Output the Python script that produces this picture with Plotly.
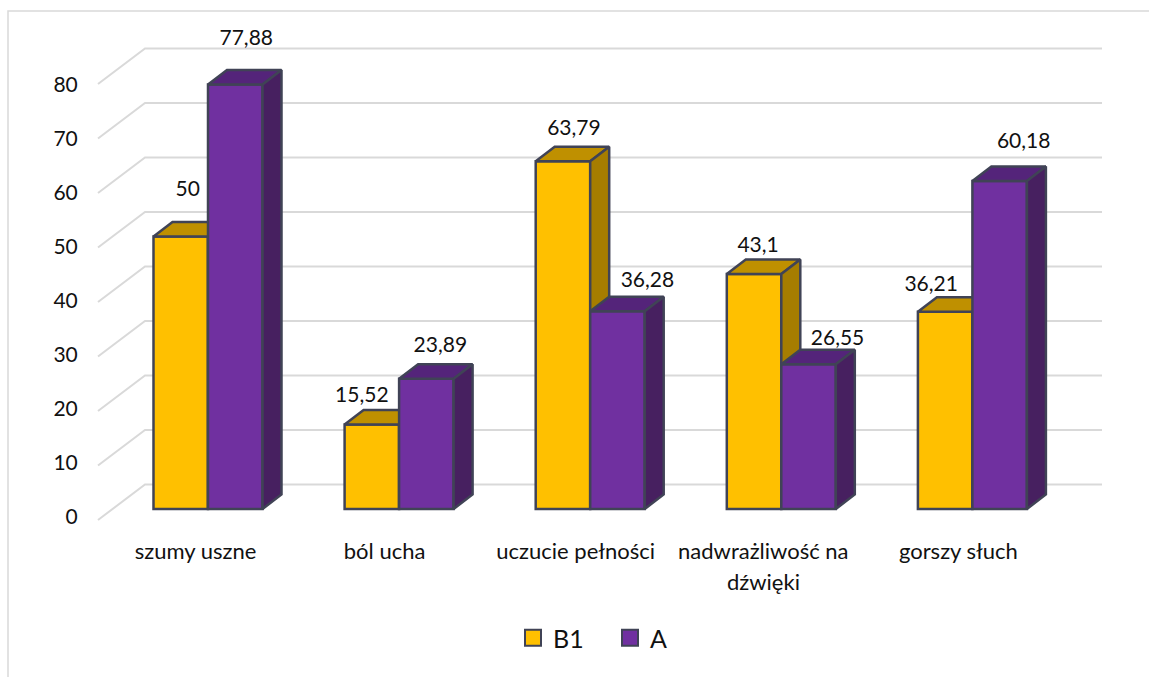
import plotly.graph_objects as go

# Survey results per symptom, in percent
categories = ["szumy uszne", "ból ucha", "uczucie pełności", "nadwrażliwość na", "gorszy słuch"]
category_second_line = {3: "dźwięki"}
series_b1 = [50, 15.52, 63.79, 43.1, 36.21]
series_a = [77.88, 23.89, 36.28, 26.55, 60.18]
y_ticks = [0, 10, 20, 30, 40, 50, 60, 70, 80]

# Pixel offsets of the hand-placed value labels, relative to the bar's top centre
label_shift_b1 = [(7, -46), (-10, -28), (11, -32), (4, -27), (-14, -26)]
label_shift_a = [(11, -45), (14, -32), (30, -30), (29, -25), (24, -38.5)]
# Pixel offsets of the category labels from their group centres
category_shift = [-12.5, -14.5, -14.5, -18, -14]

FIG_W, FIG_H = 1149, 677
PLOT_L, PLOT_R, PLOT_T, PLOT_B = 90, 1110, 20, 530

# Scales: one category step and one percentage point in pixels
PX_PER_CAT = 191.1
PX_PER_VAL = 5.45
ORIGIN_X, ORIGIN_Y = 208.0, 509.0

BAR_W = 54.5 / PX_PER_CAT
DEPTH_X = 19 / PX_PER_CAT
DEPTH_Y = 14.5 / PX_PER_VAL

x_range = [(PLOT_L - ORIGIN_X) / PX_PER_CAT, (PLOT_R - ORIGIN_X) / PX_PER_CAT]
y_range = [(ORIGIN_Y - PLOT_B) / PX_PER_VAL, (ORIGIN_Y - PLOT_T) / PX_PER_VAL]

# The tick-label axis sits a little lower and tighter than the bars' own scale
tick_px = 5.4
tick_zero = 517.0
tick_range = [(tick_zero - PLOT_B) / tick_px, (tick_zero - PLOT_T) / tick_px]

# Back wall and floor of the 3D box
WALL_FRONT_X = (98 - ORIGIN_X) / PX_PER_CAT
WALL_BACK_X = (145 - ORIGIN_X) / PX_PER_CAT
WALL_RIGHT_X = (1102 - ORIGIN_X) / PX_PER_CAT
WALL_FRONT_Y = (ORIGIN_Y - 520) / PX_PER_VAL
WALL_BACK_Y = (ORIGIN_Y - 484.5) / PX_PER_VAL

TEXT = "#111111"
FONT = "Lato"
GRID = "#d9d9d9"
EDGE = "#404356"
EDGE_W = 2.5
B1_FRONT, B1_TOP, B1_SIDE = "#FFC000", "#BF9000", "#A67D00"
A_FRONT, A_TOP, A_SIDE = "#7030A0", "#54247A", "#472060"

fig = go.Figure()

# Wall lines: short diagonal from the front, then along the back wall
for v in y_ticks:
    fig.add_trace(go.Scatter(
        x=[WALL_FRONT_X, WALL_BACK_X, WALL_RIGHT_X],
        y=[WALL_FRONT_Y + v, WALL_BACK_Y + v, WALL_BACK_Y + v],
        mode="lines", line=dict(color=GRID, width=2),
        showlegend=False, hoverinfo="skip", yaxis="y",
    ))


def add_boxes(values, left_offset, front, top, side, axis):
    """One overlay layer: front faces as bars, top and side faces as polygons."""
    centres = [i + left_offset + BAR_W / 2 for i in range(len(values))]
    fig.add_trace(go.Bar(
        x=centres, y=values, width=BAR_W, yaxis=axis,
        marker=dict(color=front, line=dict(color=EDGE, width=EDGE_W)),
        showlegend=False, hoverinfo="skip",
    ))
    for c, v in zip(centres, values):
        l, r = c - BAR_W / 2, c + BAR_W / 2
        fig.add_trace(go.Scatter(
            x=[l, l + DEPTH_X, r + DEPTH_X, r, l],
            y=[v, v + DEPTH_Y, v + DEPTH_Y, v, v],
            mode="lines", fill="toself", fillcolor=top,
            line=dict(color=EDGE, width=EDGE_W), yaxis=axis,
            showlegend=False, hoverinfo="skip",
        ))
        fig.add_trace(go.Scatter(
            x=[r, r + DEPTH_X, r + DEPTH_X, r, r],
            y=[v, v + DEPTH_Y, DEPTH_Y, 0, v],
            mode="lines", fill="toself", fillcolor=side,
            line=dict(color=EDGE, width=EDGE_W), yaxis=axis,
            showlegend=False, hoverinfo="skip",
        ))
    return centres


centres_b1 = add_boxes(series_b1, -BAR_W, B1_FRONT, B1_TOP, B1_SIDE, "y2")
centres_a = add_boxes(series_a, 0, A_FRONT, A_TOP, A_SIDE, "y3")


def fmt(v):
    return f"{v:g}".replace(".", ",")


# Value labels above each bar
for centres, values, shifts in ((centres_b1, series_b1, label_shift_b1),
                                (centres_a, series_a, label_shift_a)):
    fig.add_trace(go.Scatter(
        x=[c + s[0] / PX_PER_CAT for c, s in zip(centres, shifts)],
        y=[v - s[1] / PX_PER_VAL for v, s in zip(values, shifts)],
        text=[fmt(v) for v in values],
        mode="text", textposition="middle center",
        textfont=dict(family=FONT, size=21, color=TEXT),
        yaxis="y3", showlegend=False, hoverinfo="skip",
    ))

# Legend entries
for name, front in (("B1", B1_FRONT), ("A", A_FRONT)):
    fig.add_trace(go.Scatter(
        x=[None], y=[None], name=name, mode="markers", yaxis="y3",
        marker=dict(symbol="square", size=16, color=front,
                    line=dict(color=EDGE, width=2)),
    ))

# Empty trace that brings the tick-label axis into the subplot
fig.add_trace(go.Scatter(x=[None], y=[None], yaxis="y4", showlegend=False, hoverinfo="skip"))

plot_w = PLOT_R - PLOT_L
plot_h = PLOT_B - PLOT_T


def px_x(p):
    return (p - PLOT_L) / plot_w


def px_y(p):
    return (PLOT_B - p) / plot_h


hidden = dict(range=y_range, visible=False, fixedrange=True)
cat_labels_at = [i + s / PX_PER_CAT for i, s in zip(range(len(categories)), category_shift)]

fig.update_layout(
    width=FIG_W, height=FIG_H,
    margin=dict(l=PLOT_L, r=FIG_W - PLOT_R, t=PLOT_T, b=FIG_H - PLOT_B, autoexpand=False),
    paper_bgcolor="white", plot_bgcolor="rgba(0,0,0,0)",
    font=dict(family=FONT, color=TEXT),
    xaxis=dict(
        range=x_range, tickmode="array", tickvals=cat_labels_at, ticktext=categories,
        showgrid=False, zeroline=False, showline=False,
        ticks="outside", ticklen=2, tickcolor="rgba(0,0,0,0)",
        tickfont=dict(family=FONT, size=22, color=TEXT),
    ),
    yaxis=dict(**hidden),
    yaxis2=dict(overlaying="y", **hidden),
    yaxis3=dict(overlaying="y", **hidden),
    yaxis4=dict(
        overlaying="y", range=tick_range, side="left", tickmode="array",
        tickvals=y_ticks, ticktext=[str(t) for t in y_ticks],
        showgrid=False, zeroline=False, showline=False,
        ticks="outside", ticklen=7, tickcolor="rgba(0,0,0,0)",
        tickfont=dict(family=FONT, size=21, color=TEXT),
    ),
    legend=dict(
        orientation="h", xanchor="left", yanchor="middle",
        x=px_x(513), y=px_y(638), entrywidth=52, entrywidthmode="pixels",
        font=dict(family=FONT, size=25, color=TEXT),
        bgcolor="rgba(0,0,0,0)",
    ),
    shapes=[dict(
        type="path", xref="paper", yref="paper",
        path=f"M {px_x(8)} {px_y(677)} L {px_x(8)} {px_y(11)} L {px_x(1149)} {px_y(11)}",
        line=dict(color=GRID, width=1.5),
    )],
)

# The long label keeps a wider line gap than the axis text would give it
for i, line in category_second_line.items():
    fig.add_annotation(
        x=cat_labels_at[i], xref="x", y=px_y(581), yref="paper", text=line, showarrow=False,
        yanchor="middle", font=dict(family=FONT, size=22, color=TEXT),
    )

fig.write_html("out.html", config=dict(displayModeBar=False))
